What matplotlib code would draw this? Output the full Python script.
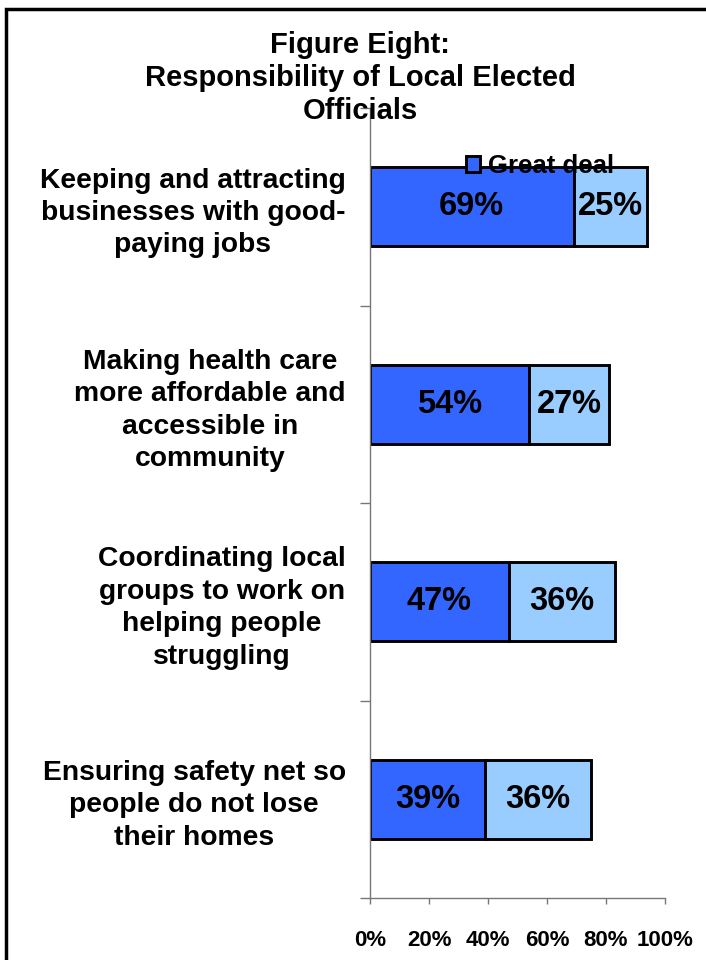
import matplotlib.pyplot as plt
import numpy as np
from matplotlib.patches import Rectangle

plt.rcParams['font.family'] = ['Liberation Sans', 'DejaVu Sans']
plt.rcParams['font.weight'] = 'bold'

# Survey responses, top to bottom
categories = [
    "Keeping and attracting\nbusinesses with good-\npaying jobs",
    "Making health care\nmore affordable and\naccessible in\ncommunity",
    "Coordinating local\ngroups to work on\nhelping people\nstruggling",
    "Ensuring safety net so\npeople do not lose\ntheir homes",
]
great_deal = [69, 54, 47, 39]
somewhat = [25, 27, 36, 36]
series_names = ["Great deal", "Somewhat"]
xticks = [0, 20, 40, 60, 80, 100]

dark_blue = "#3366FF"
light_blue = "#99CCFF"
axis_gray = "#777777"

fig = plt.figure(figsize=(7.06, 9.6), dpi=100)
ax = fig.add_axes([370 / 706, 1 - 898 / 960, 295 / 706, 790 / 960])

y = np.arange(len(categories))
bh = 0.4
b1 = ax.barh(y, great_deal, height=bh, color=dark_blue, edgecolor="black",
             linewidth=2.1, label=series_names[0])
b2 = ax.barh(y, somewhat, left=great_deal, height=bh, color=light_blue,
             edgecolor="black", linewidth=2.1, label=series_names[1])

# value labels in the middle of each segment
for i in range(len(categories)):
    ax.text(great_deal[i] / 2, y[i], f"{great_deal[i]}%", ha="center",
            va="center", fontsize=23.5, fontweight="bold")
    ax.text(great_deal[i] + somewhat[i] / 2, y[i], f"{somewhat[i]}%",
            ha="center", va="center", fontsize=23.5, fontweight="bold")

ax.set_xlim(0, 100)
ax.set_ylim(len(categories) - 0.5, -0.5)

ax.set_xticks(xticks)
ax.set_xticklabels([f"{t}%" for t in xticks], fontsize=16, fontweight="bold")
ax.tick_params(axis="x", length=4, width=1, color=axis_gray, pad=19)

ax.set_yticks(y)
ax.set_yticklabels(categories, fontsize=20.3, fontweight="bold")
ax.set_yticks(np.arange(len(categories) + 1) - 0.5, minor=True)
ax.tick_params(axis="y", which="major", length=0, pad=17.5)
ax.tick_params(axis="y", which="minor", length=7, width=1, color=axis_gray)
for lab in ax.get_yticklabels():
    lab.set_multialignment("center")
    lab.set_linespacing(1.32)

for side in ("top", "right"):
    ax.spines[side].set_visible(False)
for side in ("left", "bottom"):
    ax.spines[side].set_color(axis_gray)
    ax.spines[side].set_linewidth(1)

# legend shows only the first series
leg = ax.legend(handles=[b1], loc="center left", frameon=False,
                bbox_to_anchor=(466 / 706, 1 - 166 / 960),
                bbox_transform=fig.transFigure, fontsize=18.5,
                handlelength=0.55, handleheight=0.55, handletextpad=0.3,
                borderpad=0, borderaxespad=0)
for t in leg.get_texts():
    t.set_fontweight("bold")

fig.text(360 / 706, 1 - 78 / 960,
         "Figure Eight:\nResponsibility of Local Elected\nOfficials",
         ha="center", va="center", fontsize=21, fontweight="bold",
         linespacing=1.22)

# frame around the whole chart
fig.patches.append(Rectangle((6 / 706, -0.1), 1.2, 1.1 - 9 / 960,
                             transform=fig.transFigure, fill=False,
                             edgecolor="black", linewidth=2.5))

fig.savefig("out.png", dpi=100)
